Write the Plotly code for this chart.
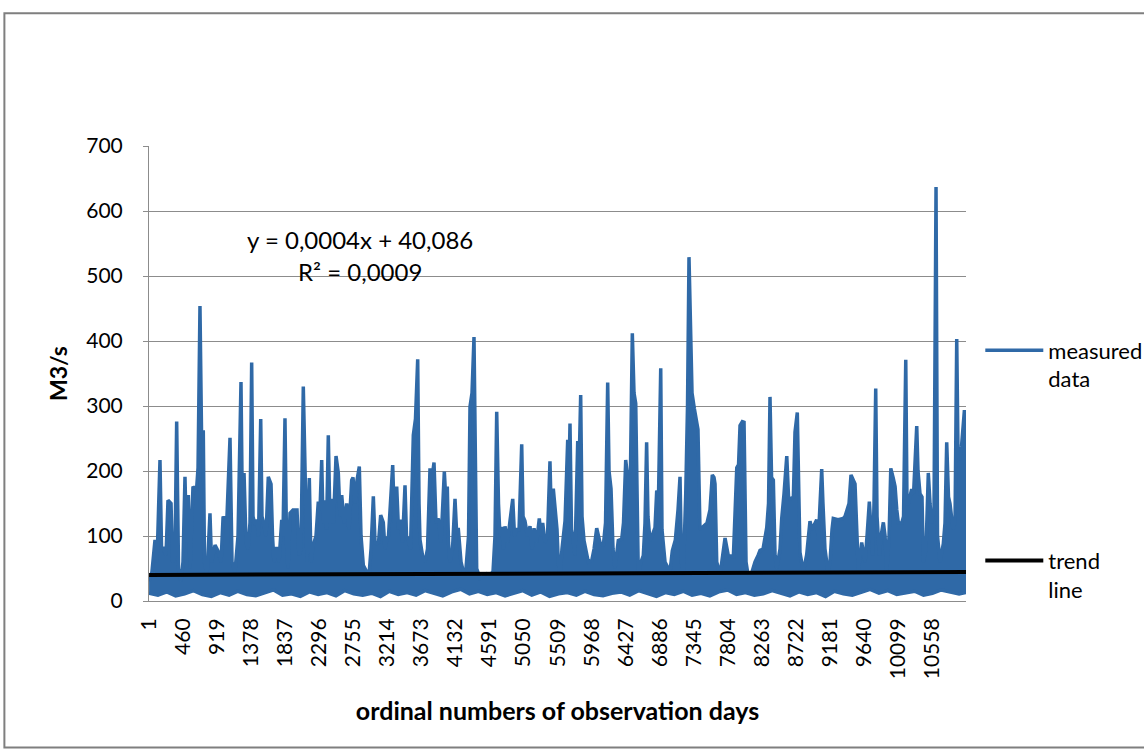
import plotly.graph_objects as go

# Daily discharge record: number of observation days
n_days = 11013

# Upper envelope of the measured daily discharge (day number, M3/s)
day_hi = [
    1, 40, 81, 108, 148, 169, 189, 229, 256, 297, 317, 350, 373, 398, 431, 458, 485, 506, 530, 553,
    593, 640, 661, 687, 708, 732, 748, 782, 822, 843, 890, 930, 971, 998, 1051, 1092, 1119, 1159, 1200, 1240,
    1260, 1281, 1308, 1335, 1361, 1384, 1402, 1429, 1456, 1476, 1506, 1523, 1541, 1577, 1608, 1645, 1665, 1685, 1721, 1752,
    1789, 1806, 1833, 1854, 1874, 1901, 1941, 1995, 2022, 2049, 2080, 2103, 2130, 2161, 2184, 2211, 2251, 2282, 2305, 2328,
    2346, 2372, 2393, 2417, 2440, 2463, 2487, 2521, 2552, 2575, 2598, 2629, 2665, 2696, 2732,
    2750, 2777, 2804, 2835, 2858, 2889, 2935, 2966, 2993, 3024, 3047, 3069, 3094, 3123, 3158, 3181, 3204, 3228, 3249, 3285,
    3309, 3339, 3363, 3383, 3417, 3451, 3471, 3495, 3525, 3563, 3592, 3622, 3640, 3653, 3687, 3720, 3754, 3788, 3815, 3842,
    3869, 3900, 3936, 3981, 4004, 4021, 4037, 4058, 4091, 4125, 4145, 4170, 4206, 4237, 4273, 4307, 4327, 4354, 4381, 4401,
    4417, 4462, 4502, 4556, 4597, 4637, 4664, 4687, 4711, 4731, 4754, 4779, 4799, 4833, 4866, 4903, 4927, 4957, 4988, 5008,
    5024, 5042, 5068, 5102, 5136, 5163, 5190, 5224, 5261, 5284, 5307, 5338, 5372, 5405, 5425, 5450, 5473,
    5500, 5517, 5540, 5567, 5608, 5644, 5662, 5675, 5695, 5720, 5742, 5779, 5796, 5819, 5837, 5864, 5922, 5968, 5999, 6035,
    6057, 6079, 6124, 6154, 6183, 6201, 6228, 6255, 6282, 6326, 6372, 6396, 6426, 6443, 6470, 6490, 6515, 6538, 6561, 6578,
    6596, 6632, 6663, 6686, 6708, 6726, 6753, 6780, 6821, 6844, 6868, 6898, 6915, 6956, 7023, 7054, 7095, 7131, 7158, 7178,
    7202, 7235, 7259, 7279, 7299, 7320, 7351, 7373, 7400, 7427, 7472, 7522, 7562, 7593, 7616, 7630, 7653, 7697, 7765, 7809,
    7877, 7900, 7923, 7947, 7967, 7998, 8021, 8048, 8075, 8129, 8169, 8210,
    8237, 8277, 8327, 8351, 8371, 8392, 8416, 8439, 8462, 8506, 8529, 8560, 8597, 8621, 8641, 8686, 8708, 8739, 8762, 8775,
    8820, 8865, 8890, 8910, 8937, 8977, 9000, 9022, 9045, 9068, 9085, 9112, 9153, 9180, 9207, 9224, 9288, 9359, 9382, 9416,
    9436, 9463, 9490, 9517, 9544, 9561, 9607, 9625, 9652, 9679, 9710, 9733, 9756, 9773, 9796, 9814, 9845, 9868, 9899, 9922,
    9945, 9976, 9999, 10030, 10057, 10080, 10101, 10147, 10171, 10201, 10218, 10236, 10258, 10281, 10306, 10349, 10366, 10393, 10420, 10438,
    10474, 10505, 10528, 10551, 10582, 10609, 10629, 10663, 10707, 10730, 10753, 10777, 10797, 10838, 10865, 10888, 10905, 10928, 10952, 10972,
    10990, 11013,
]
flow_hi = [
    30, 45, 94, 60, 217, 80, 83, 70, 155, 150, 60, 70, 276, 50, 30, 60, 191, 90, 163, 50,
    176, 170, 205, 454, 260, 260, 60, 40, 135, 60, 86, 77, 60, 128, 130, 251, 60, 45, 100, 337,
    120, 197, 90, 80, 120, 367, 130, 117, 125, 100, 280, 130, 122, 100, 191, 180, 100, 60, 83, 60,
    125, 100, 281, 90, 50, 135, 140, 140, 70, 80, 330, 190, 60, 189, 60, 85, 100, 153, 140, 217,
    120, 155, 110, 255, 120, 157, 120, 223, 197, 130, 163, 120, 150, 110, 186,
    190, 150, 186, 207, 100, 55, 45, 40, 80, 161, 90, 88, 90, 132, 121, 80, 94, 100, 140, 209,
    120, 176, 110, 125, 90, 178, 100, 94, 80, 255, 280, 372, 150, 94, 70, 60, 80, 204, 190, 213,
    120, 127, 90, 199, 150, 176, 90, 60, 80, 157, 110, 110, 60, 45, 50, 100, 299, 320, 406, 150,
    50, 35, 38, 42, 40, 45, 100, 291, 150, 100, 114, 80, 115, 90, 123, 157, 100, 110, 110, 200,
    241, 130, 123, 100, 115, 80, 112, 90, 127, 100, 120, 90, 100, 215, 120, 173, 140,
    110, 60, 40, 80, 123, 248, 200, 273, 110, 93, 70, 246, 200, 317, 130, 93, 60, 62, 80, 112,
    100, 90, 85, 120, 336, 200, 173, 80, 50, 93, 95, 120, 217, 200, 197, 200, 412, 320, 304, 120,
    40, 60, 70, 120, 244, 130, 93, 100, 113, 170, 160, 358, 110, 60, 45, 77, 94, 140, 191, 60,
    40, 165, 300, 529, 400, 320, 296, 280, 264, 110, 115, 120, 140, 194, 190, 180, 60, 40, 97, 70,
    68, 130, 205, 210, 270, 276, 275, 60, 40, 45, 60, 70,
    78, 80, 113, 150, 314, 190, 186, 70, 50, 80, 127, 165, 223, 160, 157, 160, 260, 290, 110, 75,
    45, 71, 100, 123, 110, 118, 125, 94, 150, 203, 150, 80, 45, 60, 110, 127, 125, 127, 130, 145,
    150, 194, 185, 180, 100, 45, 90, 75, 60, 100, 153, 110, 70, 150, 327, 130, 70, 100, 121, 100,
    45, 100, 204, 190, 176, 140, 120, 120, 130, 371, 150, 150, 160, 172, 165, 269, 200, 165, 160, 60,
    80, 197, 150, 120, 140, 637, 100, 60, 88, 120, 244, 160, 150, 110, 120, 403, 230, 217, 237, 260,
    291, 291,
]

# Lower envelope of the measured daily discharge, sampled every 120 days (M3/s)
day_lo = [1] + list(range(120, 11000, 120)) + [n_days]
flow_lo = [
    12, 9, 14, 8, 11, 16, 10, 7, 13, 9,
    15, 10, 8, 12, 17, 9, 11, 7, 14, 10,
    13, 8, 16, 11, 9, 12, 7, 15, 10, 13,
    9, 16, 12, 8, 14, 18, 11, 15, 10, 13,
    8, 12, 16, 9, 14, 7, 11, 13, 9, 15,
    10, 8, 12, 14, 9, 16, 11, 7, 13, 10,
    15, 9, 12, 8, 14, 17, 10, 13, 9, 11,
    16, 12, 8, 14, 10, 13, 7, 15, 11, 9,
    14, 18, 12, 16, 10, 13, 15, 9, 12, 17,
    14, 11, 13,
]

# Linear trend fitted to the daily series
trend_slope = 0.0004
trend_intercept = 40.086
trend_r2 = 0.0009

# Category tick labels (every 459th day)
tick_days = [1, 460, 919, 1378, 1837, 2296, 2755, 3214, 3673, 4132, 4591, 5050,
             5509, 5968, 6427, 6886, 7345, 7804, 8263, 8722, 9181, 9640, 10099, 10558]

BLUE = "#2F69A7"
GRID = "#8C8C8C"
FONT = "Lato"

fig = go.Figure()

# measured series: upper edge carries the legend entry, lower edge fills up to it
fig.add_trace(go.Scatter(
    x=day_hi, y=flow_hi, mode="lines", name="measured<br>data",
    line=dict(color=BLUE, width=3.5), legend="legend",
))
fig.add_trace(go.Scatter(
    x=day_lo, y=flow_lo, mode="lines",
    line=dict(color=BLUE, width=3.5), fill="tonexty", fillcolor=BLUE,
    showlegend=False, hoverinfo="skip",
))

trend_x = [1, n_days]
trend_y = [trend_slope * d + trend_intercept for d in trend_x]
fig.add_trace(go.Scatter(
    x=trend_x, y=trend_y, mode="lines", name="trend<br>line",
    line=dict(color="black", width=4), legend="legend2",
))


def fmt(v, nd):
    return f"{v:.{nd}f}".replace(".", ",")


eq_text = f"y = {fmt(trend_slope, 4)}x + {fmt(trend_intercept, 3)}"
r2_text = f"R² = {fmt(trend_r2, 4)}"

fig.add_annotation(x=2850, y=556, xref="x", yref="y", text=eq_text, showarrow=False,
                   font=dict(family=FONT, size=24, color="black"), xanchor="center")
fig.add_annotation(x=2850, y=507, xref="x", yref="y", text=r2_text, showarrow=False,
                   font=dict(family=FONT, size=24, color="black"), xanchor="center")

# Outer chart frame
fig.add_shape(type="rect", xref="paper", yref="paper",
              x0=-0.177, x1=1.25, y0=-0.322, y1=1.292,
              line=dict(color="#7F7F7F", width=2), layer="below")

fig.update_layout(
    width=1144, height=752,
    margin=dict(l=149, r=178, t=146, b=151, autoexpand=False),
    paper_bgcolor="white", plot_bgcolor="white",
    font=dict(family=FONT, size=21, color="black"),
    legend=dict(x=1.0175, y=0.597, xanchor="left", yanchor="top",
                font=dict(family=FONT, size=22, color="black"),
                itemwidth=58, valign="top", bgcolor="rgba(0,0,0,0)"),
    legend2=dict(x=1.0175, y=0.135, xanchor="left", yanchor="top",
                 font=dict(family=FONT, size=22, color="black"),
                 itemwidth=58, valign="top", bgcolor="rgba(0,0,0,0)"),
    xaxis=dict(
        range=[0, n_days], tickmode="array", tickvals=tick_days,
        ticktext=[str(t) for t in tick_days], tickangle=-90,
        showgrid=False, showline=True, linecolor=GRID, linewidth=1,
        ticks="", zeroline=False, ticklabelstandoff=8,
        tickfont=dict(family=FONT, size=21, color="black"),
        title=dict(text="<b>ordinal numbers of observation days</b>",
                   font=dict(family=FONT, size=25, color="black"), standoff=24),
    ),
    yaxis=dict(
        range=[0, 700], dtick=100, showgrid=True, gridcolor=GRID, gridwidth=1,
        showline=True, linecolor=GRID, linewidth=1, ticks="outside", ticklen=5,
        tickcolor=GRID, zeroline=False, ticklabelstandoff=16,
        tickfont=dict(family=FONT, size=21, color="black"),
        title=dict(text="<b>M3/s</b>", font=dict(family=FONT, size=23, color="black"),
                   standoff=12),
    ),
)

fig.write_html("out.html")
